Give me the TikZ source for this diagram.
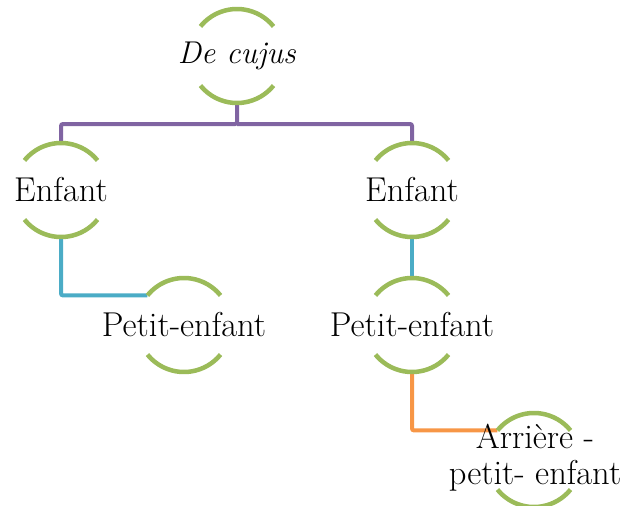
\documentclass[tikz,border=0pt]{standalone}
\usetikzlibrary{calc}
\definecolor{ringgreen}{HTML}{9BBB59}
\definecolor{lnpurple}{HTML}{8064A2}
\definecolor{lnblue}{HTML}{4BACC6}
\definecolor{lnorange}{HTML}{F79646}
\begin{document}
\begin{tikzpicture}[x=1pt,y=1pt,
  ringline/.style={draw=ringgreen,line width=4.5pt},
  ring/.pic={\draw[ringline] (141:47) arc (141:39:47);
             \draw[ringline] (-141:47) arc (-141:-39:47);},
  label/.style={font=\fontsize{34.5}{36}\selectfont,inner sep=0pt,align=center},
  conn/.style={line width=4pt,rounded corners=2pt}]
\useasboundingbox (0,0) rectangle (624,-506);
% centres
\coordinate (dc) at (237,-56);
\coordinate (e1) at (61,-190);
\coordinate (e2) at (412,-190);
\coordinate (p1) at (184,-325);
\coordinate (p2) at (412,-325);
\coordinate (a1) at (534,-460);
% connectors
\coordinate (dcB) at ($(dc)+(0,-47)$);
\coordinate (e1T) at ($(e1)+(0,47)$);
\coordinate (e2T) at ($(e2)+(0,47)$);
\coordinate (e1B) at ($(e1)+(0,-47)$);
\coordinate (e2B) at ($(e2)+(0,-47)$);
\coordinate (p1W) at ($(p1)+(141:47)$);
\coordinate (p2T) at ($(p2)+(0,47)$);
\coordinate (p2B) at ($(p2)+(0,-47)$);
\coordinate (a1W) at ($(a1)+(141:47)$);
\coordinate (bus) at ($(dcB)+(0,-21)$);
\draw[conn,lnpurple] (dcB) -- (bus) -| (e1T);
\draw[conn,lnpurple] (bus) -| (e2T);
\draw[conn,lnblue] (e1B) |- (p1W);
\draw[conn,lnblue] (e2B) -- (p2T);
\draw[conn,lnorange] (p2B) |- (a1W);
% rings
\pic at (dc) {ring};
\pic at (e1) {ring};
\pic at (e2) {ring};
\pic at (p1) {ring};
\pic at (p2) {ring};
\pic at (a1) {ring};
% labels
\node[label,font=\fontsize{31.5}{36}\selectfont] (tdc) at (237,-56) {\textit{De cujus}};
\node[label] (te1) at (61,-190) {Enfant};
\node[label] (te2) at (412,-190) {Enfant};
\node[label] (tp1) at (184,-325) {Petit-enfant};
\node[label] (tp2) at (412,-325) {Petit-enfant};
\node[label] (ta1) at (535,-458) {Arri\`ere -\\petit- enfant};
\end{tikzpicture}
\end{document}
